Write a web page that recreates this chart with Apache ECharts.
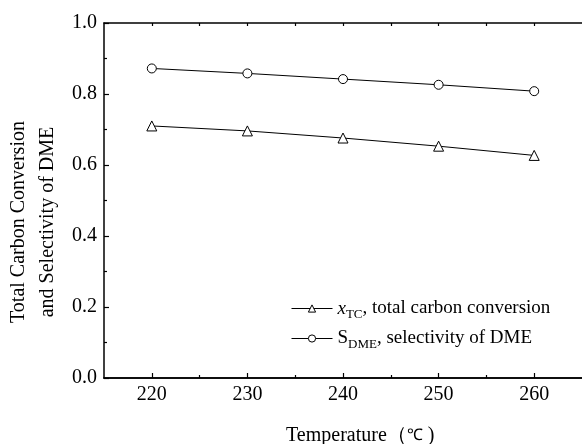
<!DOCTYPE html>
<html>
<head>
<meta charset="utf-8">
<script src="https://cdn.jsdelivr.net/npm/echarts@6/dist/echarts.min.js"></script>
<style>html,body{margin:0;padding:0;background:#fff}#c{width:582px;height:444px}</style>
</head>
<body>
<div id="c"></div>
<script>
const temperatures = [220, 230, 240, 250, 260];
const xTC = [0.710, 0.696, 0.676, 0.653, 0.627];
const sDME = [0.872, 0.858, 0.842, 0.826, 0.808];
const xMajorTicks = [220, 230, 240, 250, 260];
const xMinorTicks = [225, 235, 245, 255];
const xTopTicks = [220, 225, 230, 235, 240, 245, 250, 255, 260];
const yTitleLines = ['Total Carbon Conversion', 'and Selectivity of DME'];
const xTitleText = 'Temperature（';
const xTitleUnit = '℃';
const xTitleEnd = ' )';

const FONT = '"Liberation Serif", "Times New Roman", serif';
const chart = echarts.init(document.getElementById('c'), null, {renderer: 'canvas'});

function pairs(xs, ys) { return xs.map((x, i) => [x, ys[i]]); }

const axisLineStyle = {color: '#000', width: 1.5};
const tickStyle = {color: '#000', width: 1.2};
const gridPos = {left: 104, top: 23, right: -3, bottom: 66, containLabel: false};
const topGridPos = {left: 104, top: 0, right: -3, bottom: 421, containLabel: false};

chart.setOption({
  backgroundColor: '#fff',
  animation: false,
  grid: [Object.assign({}, gridPos), Object.assign({}, gridPos), Object.assign({}, topGridPos)],
  xAxis: [
    {
      type: 'value', min: 215, max: 265, gridIndex: 0, position: 'bottom',
      axisLine: {show: true, onZero: false, lineStyle: axisLineStyle},
      splitLine: {show: false},
      axisTick: {show: true, inside: true, length: 5, lineStyle: tickStyle, customValues: xMajorTicks},
      axisLabel: {show: true, color: '#000', fontFamily: FONT, fontSize: 20, margin: 7, customValues: xMajorTicks, formatter: v => String(v)}
    },
    {
      type: 'value', min: 215, max: 265, gridIndex: 1, position: 'bottom',
      axisLine: {show: true, onZero: false, lineStyle: axisLineStyle},
      splitLine: {show: false},
      axisTick: {show: true, inside: true, length: 3, lineStyle: tickStyle, customValues: xMinorTicks},
      axisLabel: {show: false}
    },
    {
      type: 'value', min: 215, max: 265, gridIndex: 2, position: 'bottom',
      axisLine: {show: true, onZero: false, lineStyle: axisLineStyle},
      splitLine: {show: false},
      axisTick: {show: true, inside: false, length: 3, lineStyle: tickStyle, customValues: xTopTicks},
      axisLabel: {show: false}
    }
  ],
  yAxis: [
    {
      type: 'value', min: 0, max: 1, interval: 0.2, gridIndex: 0,
      axisLine: {show: true, onZero: false, lineStyle: axisLineStyle},
      axisTick: {show: true, inside: true, length: 5, lineStyle: tickStyle},
      minorTick: {show: true, splitNumber: 2, length: 3, lineStyle: tickStyle},
      axisLabel: {color: '#000', fontFamily: FONT, fontSize: 20, margin: 7, formatter: v => v.toFixed(1)},
      splitLine: {show: false}
    },
    {type: 'value', min: 0, max: 1, gridIndex: 1, show: false},
    {type: 'value', min: 0, max: 1, gridIndex: 2, show: false}
  ],
  legend: {
    orient: 'vertical', left: 286, top: 294, itemWidth: 41, itemHeight: 9, itemGap: 8,
    data: ['xTC', 'sDME'],
    itemStyle: {color: '#fff', borderColor: '#000', borderWidth: 1},
    lineStyle: {color: '#000', width: 1},
    formatter: name => name === 'xTC'
      ? '{i|x}{sub|TC}{n|, total carbon conversion}'
      : '{n|S}{sub|DME}{n|, selectivity of DME}',
    textStyle: {
      color: '#000', fontFamily: FONT, fontSize: 19,
      rich: {
        i: {fontFamily: FONT, fontSize: 19, fontStyle: 'italic', color: '#000'},
        n: {fontFamily: FONT, fontSize: 19, color: '#000'},
        sub: {fontFamily: FONT, fontSize: 13, color: '#000', padding: [12, 0, 0, 0]}
      }
    }
  },
  graphic: [
    {type: 'text', x: 19, y: 222, rotation: Math.PI / 2,
      style: {text: yTitleLines[0], font: '20px ' + FONT, fill: '#000', align: 'center', verticalAlign: 'middle'}},
    {type: 'text', x: 48, y: 222, rotation: Math.PI / 2,
      style: {text: yTitleLines[1], font: '20px ' + FONT, fill: '#000', align: 'center', verticalAlign: 'middle'}},
    {type: 'text', x: 286, y: 436,
      style: {
        text: '{a|' + xTitleText + '}{b|' + xTitleUnit + '}{a|' + xTitleEnd + '}',
        fill: '#000', align: 'left', verticalAlign: 'middle',
        rich: {
          a: {fontFamily: FONT, fontSize: 20, fill: '#000'},
          b: {fontFamily: FONT, fontSize: 16, fill: '#000'}
        }
      }}
  ],
  series: [
    {name: 'xTC', type: 'line', xAxisIndex: 0, yAxisIndex: 0, data: pairs(temperatures, xTC),
      symbol: 'triangle', symbolSize: 10, showAllSymbol: true,
      lineStyle: {color: '#000', width: 1},
      itemStyle: {color: '#fff', borderColor: '#000', borderWidth: 1}},
    {name: 'sDME', type: 'line', xAxisIndex: 0, yAxisIndex: 0, data: pairs(temperatures, sDME),
      symbol: 'circle', symbolSize: 9, showAllSymbol: true,
      lineStyle: {color: '#000', width: 1},
      itemStyle: {color: '#fff', borderColor: '#000', borderWidth: 1}}
  ]
});
</script>
</body>
</html>
